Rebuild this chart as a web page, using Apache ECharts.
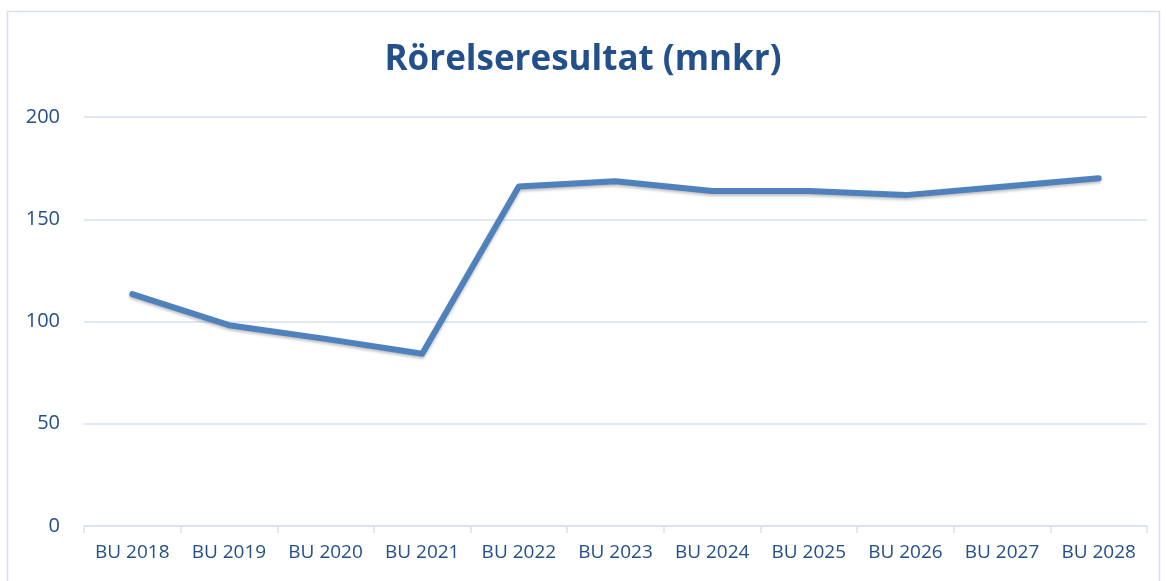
<!DOCTYPE html>
<html><head><meta charset="utf-8">
<script src="https://cdn.jsdelivr.net/npm/echarts@6/dist/echarts.min.js"></script>
<style>html,body{margin:0;padding:0;background:#fff}#c{width:1166px;height:581px}</style>
</head><body><div id="c"></div>
<script>
const title = 'Rörelseresultat (mnkr)';
const categories = ['BU 2018','BU 2019','BU 2020','BU 2021','BU 2022','BU 2023','BU 2024','BU 2025','BU 2026','BU 2027','BU 2028'];
const values = [113.4, 98.2, 91.5, 84.2, 166.0, 168.6, 163.8, 163.8, 161.8, 165.9, 170.0];
const yTicks = [0, 50, 100, 150, 200];

const chart = echarts.init(document.getElementById('c'));
chart.setOption({
  animation: false,
  backgroundColor: '#fff',
  graphic: [{type:'rect', shape:{x:7.5,y:11.5,width:1152,height:590}, style:{fill:'none', stroke:'#D5E1F1', lineWidth:1.5}, silent:true}],
  title: {text: title, left: 'center', top: 38, textStyle:{fontFamily:'Open Sans', fontWeight:'bold', fontSize:35, color:'#234F8A'}},
  grid: {left: 84, right: 19, top: 117, bottom: 55},
  xAxis: {type:'category', data: categories, boundaryGap: true,
    axisLine:{lineStyle:{color:'#D5E1F1', width:1.5}},
    axisTick:{show:true, interval:0, length:7, lineStyle:{color:'#D5E1F1', width:1.5}},
    axisLabel:{interval:0, hideOverlap:false, color:'#234F8A', fontFamily:'Open Sans', fontSize:19, margin:17}},
  yAxis: {type:'value', min: yTicks[0], max: yTicks[yTicks.length-1], interval: 50,
    axisLine:{show:false}, axisTick:{show:false},
    splitLine:{lineStyle:{color:'#D5E1F1', width:1.5}},
    axisLabel:{color:'#234F8A', fontFamily:'Open Sans', fontSize:20, margin:24}},
  series: [{type:'line', data: values, symbol:'none', smooth:false,
    lineStyle:{color:'#4F81BD', width:6, cap:'round', join:'round', shadowColor:'rgba(0,0,0,0.25)', shadowBlur:3, shadowOffsetY:2}}]
});
</script></body></html>
